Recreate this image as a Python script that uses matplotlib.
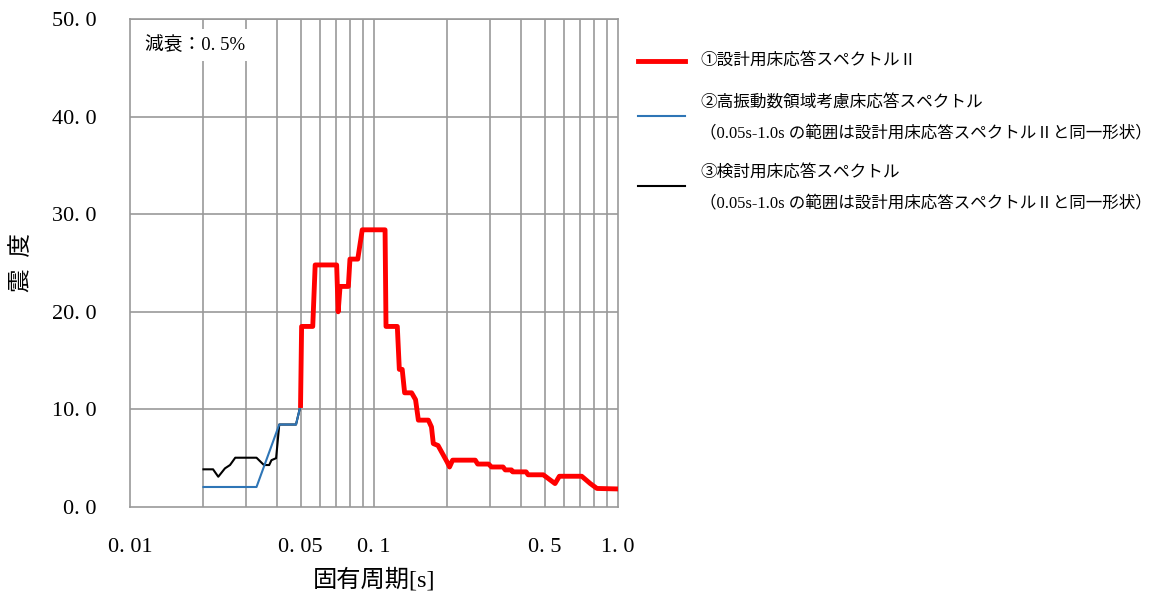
import matplotlib
matplotlib.use("Agg")
import matplotlib.pyplot as plt
from matplotlib.lines import Line2D
from matplotlib.ticker import FixedLocator, NullFormatter

plt.rcParams['font.family'] = ['Liberation Serif', 'Noto Sans CJK JP', 'DejaVu Sans']

# data (period [s], seismic intensity)
t_design = [0.050, 0.0505, 0.0561, 0.0574, 0.0703, 0.0713, 0.0726, 0.0785, 0.0797,
            0.0858, 0.0895, 0.111, 0.112, 0.1246, 0.127, 0.1305, 0.1335, 0.1426,
            0.148, 0.152, 0.167, 0.172, 0.175, 0.183, 0.1995, 0.204, 0.21, 0.26,
            0.266, 0.295, 0.303, 0.338, 0.345, 0.366, 0.37, 0.42, 0.428, 0.494,
            0.552, 0.575, 0.71, 0.77, 0.82, 1.0]
v_design = [10.4, 18.5, 18.5, 24.8, 24.8, 20.0, 22.6, 22.6, 25.4,
            25.4, 28.4, 28.4, 18.5, 18.5, 14.1, 14.1, 11.7, 11.7,
            11.0, 8.9, 8.9, 8.2, 6.5, 6.3, 4.6, 4.1, 4.8, 4.8,
            4.4, 4.4, 4.1, 4.1, 3.8, 3.8, 3.6, 3.6, 3.3, 3.3,
            2.4, 3.15, 3.15, 2.4, 1.9, 1.85]

t_high = [0.02, 0.033, 0.0409, 0.0479, 0.050]
v_high = [2.05, 2.05, 8.45, 8.45, 10.4]

t_check = [0.02, 0.0219, 0.023, 0.0245, 0.0257, 0.027, 0.033, 0.0346, 0.0354,
           0.0372, 0.038, 0.0397, 0.0409, 0.0479, 0.050]
v_check = [3.86, 3.86, 3.1, 3.96, 4.3, 5.05, 5.05, 4.54, 4.3,
           4.3, 4.8, 5.0, 8.45, 8.45, 10.4]

x_ticks = [0.01, 0.05, 0.1, 0.5, 1.0]
x_ticklabels = ['0. 01', '0. 05', '0. 1', '0. 5', '1. 0']
y_ticks = [0, 10, 20, 30, 40, 50]
y_ticklabels = ['0. 0', '10. 0', '20. 0', '30. 0', '40. 0', '50. 0']
grid_x = [0.02, 0.03, 0.04, 0.05, 0.06, 0.07, 0.08, 0.09, 0.1,
          0.2, 0.3, 0.4, 0.5, 0.6, 0.7, 0.8, 0.9]

labels = ['①設計用床応答スペクトルⅡ',
          '②高振動数領域考慮床応答スペクトル',
          '③検討用床応答スペクトル']
note = '（0.05s-1.0s の範囲は設計用床応答スペクトルⅡと同一形状）'

c_red = '#FF0000'
c_blue = '#2E75B6'
c_black = '#000000'
c_grid = '#999999'

fig = plt.figure(figsize=(11.5, 6.04), dpi=100)
ax = fig.add_axes([130 / 1150, 97 / 604, 488 / 1150, 488 / 604])

ax.set_xscale('log')
ax.set_xlim(0.01, 1.0)
ax.set_ylim(0, 50)

for gx in grid_x:
    ax.axvline(gx, color=c_grid, lw=1.2, zorder=1)
for gy in y_ticks[1:]:
    ax.axhline(gy, color=c_grid, lw=1.2, zorder=1)

ax.plot(t_check, v_check, color=c_black, lw=1.5, zorder=3)
ax.plot(t_high, v_high, color=c_blue, lw=1.5, zorder=4)
ax.plot(t_design, v_design, color=c_red, lw=3.5, zorder=5)

ax.xaxis.set_major_locator(FixedLocator(x_ticks))
ax.xaxis.set_minor_locator(FixedLocator([]))
ax.xaxis.set_minor_formatter(NullFormatter())
ax.set_xticklabels(x_ticklabels)
ax.set_yticks(y_ticks)
ax.set_yticklabels(y_ticklabels)
ax.tick_params(axis='both', which='both', length=0, labelsize=16)
ax.tick_params(axis='y', pad=24)
ax.tick_params(axis='x', pad=22)

for sp in ax.spines.values():
    sp.set_color(c_grid)
    sp.set_linewidth(1.2)

ax.set_xlabel('固有周期[s]', fontsize=17.5, labelpad=8)
ax.set_ylabel('震  度', fontsize=17, labelpad=14)

fig.text(145 / 1150, 1 - 45 / 604, '減衰：0. 5%', fontsize=13.5, va='center', ha='left',
         bbox=dict(facecolor='white', edgecolor='none', pad=5), zorder=10)

# legend drawn by hand at the right
leg_items = [(61, c_red, 3.5), (116, c_blue, 1.5), (186, c_black, 1.5)]
for ly, col, lw in leg_items:
    fig.add_artist(Line2D([638 / 1150, 685 / 1150], [1 - ly / 604, 1 - ly / 604],
                          color=col, lw=lw))

fig.text(700 / 1150, 1 - 61 / 604, labels[0], fontsize=12, va='center', ha='left')
fig.text(700 / 1150, 1 - 103 / 604, labels[1], fontsize=12, va='center', ha='left')
fig.text(700 / 1150, 1 - 133 / 604, note, fontsize=11.9, va='center', ha='left')
fig.text(700 / 1150, 1 - 173 / 604, labels[2], fontsize=12, va='center', ha='left')
fig.text(700 / 1150, 1 - 203 / 604, note, fontsize=11.9, va='center', ha='left')

fig.savefig('out.png', dpi=100)
